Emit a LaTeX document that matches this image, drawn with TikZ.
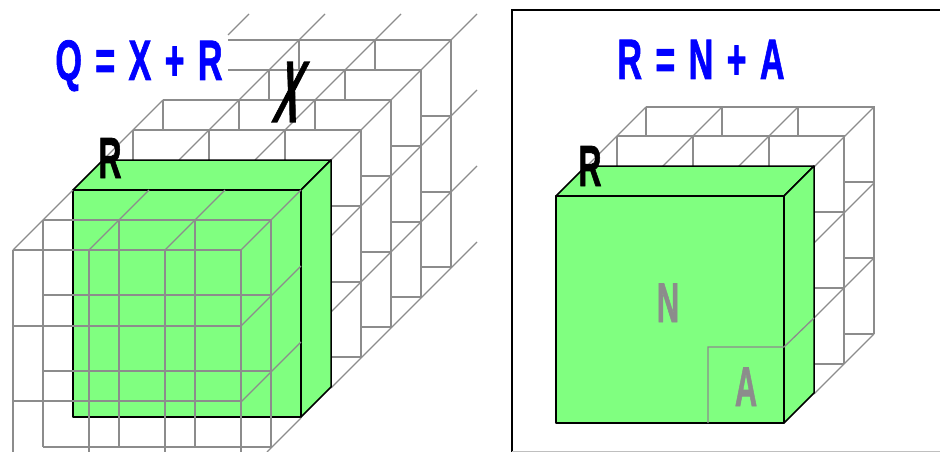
\documentclass[tikz,border=0pt]{standalone}
\usepackage{fontspec}
\setmainfont{Liberation Sans}
\newfontfamily\eqnfont[FakeBold=1.5,WordSpace=1.4]{Liberation Sans Bold}
\definecolor{gridgray}{HTML}{8C8C8C}
\definecolor{boxgreen}{HTML}{80FF80}
\definecolor{eqnblue}{HTML}{0000FF}
\tikzset{
  gridline/.style ={draw=gridgray, line width=1.3pt},
  boxface/.style  ={draw=black, fill=boxgreen, line width=1.5pt, line join=round},
  framebox/.style ={draw=black, line width=1.5pt},
  eqn/.style      ={font=\eqnfont\fontsize{57}{57}\selectfont, text=eqnblue, xscale=.6, inner sep=0pt, anchor=base},
  tag/.style      ={font=\eqnfont\fontsize{58}{58}\selectfont, text=black, xscale=.55, inner sep=0pt, anchor=base},
  parttag/.style  ={font=\eqnfont\fontsize{56}{56}\selectfont, text=gridgray, xscale=.55, inner sep=0pt, anchor=base},
}

\begin{document}
\begin{tikzpicture}[x=1pt,y=-1pt]
  \useasboundingbox (0,0) rectangle (940,452);

  % left cube, back layers
  \foreach \x in {299,375}{\draw[gridline] (\x,40) -- (\x,70);}
  \foreach \x in {269,345}{\draw[gridline] (\x,70) -- (\x,100);}
  \foreach \x in {163,239,315}{\draw[gridline] (\x,100) -- (\x,130);}
  \foreach \x in {133,209,285}{\draw[gridline] (\x,130) -- (\x,160);}
  \draw[gridline] (228,40) -- (451,40) -- (451,268);
  \draw[gridline] (228,70) -- (421,70) -- (421,297);
  \draw[gridline] (163,100) -- (391,100) -- (391,327);
  \draw[gridline] (133,130) -- (361,130) -- (361,357);
  \foreach \y in {116,192,267}{\draw[gridline] (421,\y) -- (451,\y);}
  \foreach \y in {146,222,297}{\draw[gridline] (391,\y) -- (421,\y);}
  \foreach \y in {176,252,327}{\draw[gridline] (361,\y) -- (391,\y);}
  \foreach \y in {206,282,357}{\draw[gridline] (331,\y) -- (361,\y);}
  \draw[gridline] (103,160) -- (163,100);
  \draw[gridline] (228,35) -- (249,14);
  \draw[gridline] (179,160) -- (325,14);
  \draw[gridline] (255,160) -- (401,14);
  \draw[gridline] (331,160) -- (477,14);
  \draw[gridline] (331,236) -- (477,90);
  \draw[gridline] (331,312) -- (477,166);
  \draw[gridline] (331,388) -- (477,242);

  % left green block
  \draw[boxface] (73,190) -- (103,160) -- (331,160) -- (301,190) -- cycle;
  \draw[boxface] (301,190) -- (331,160) -- (331,387) -- (301,417) -- cycle;
  \draw[boxface] (73,190) rectangle (301,417);

  % left cube, front layers
  \foreach \x in {43,119,195,271}{\draw[gridline] (\x,220) -- (\x,447);}
  \foreach \y in {220,295,371,447}{\draw[gridline] (43,\y) -- (271,\y);}
  \foreach \x in {13,89,165,241}{\draw[gridline] (\x,250) -- (\x,452);}
  \foreach \y in {250,326,401}{\draw[gridline] (13,\y) -- (241,\y);}
  \draw[gridline] (73,190) -- (13,250);
  \draw[gridline] (149,190) -- (89,250);
  \draw[gridline] (225,190) -- (165,250);
  \draw[gridline] (301,190) -- (241,250);
  \draw[gridline] (301,266) -- (241,326);
  \draw[gridline] (301,342) -- (241,402);
  \draw[gridline] (301,418) -- (267,452);

  \node[eqn] (eqnq) at (139,80) {Q = X + R};
  \node[tag] (tagr) at (110,178) {R};
  \node[tag, anchor=center, xslant=.45, yscale=1.5, xscale=1.15] (tagx) at (291,92) {X};

  % right panel
  \draw[framebox] (940,10) -- (512,10) -- (512,452);
  \draw[gray!50, line width=1pt] (512,451.5) -- (940,451.5);

  \foreach \x in {646,722,798}{\draw[gridline] (\x,107) -- (\x,136);}
  \foreach \x in {617,693,769}{\draw[gridline] (\x,136) -- (\x,166);}
  \draw[gridline] (646,107) -- (874,107) -- (874,334);
  \draw[gridline] (617,136) -- (844,136) -- (844,364);
  \foreach \y in {182,258,334}{\draw[gridline] (844,\y) -- (874,\y);}
  \foreach \y in {212,288,364}{\draw[gridline] (814,\y) -- (844,\y);}
  \draw[gridline] (586,167) -- (646,107);
  \draw[gridline] (662,167) -- (722,107);
  \draw[gridline] (738,167) -- (798,107);
  \draw[gridline] (814,167) -- (874,107);
  \draw[gridline] (814,243) -- (874,183);
  \draw[gridline] (814,318) -- (874,258);
  \draw[gridline] (814,394) -- (874,334);

  \draw[boxface] (556,196) -- (586,166) -- (814,166) -- (784,196) -- cycle;
  \draw[boxface] (784,196) -- (814,166) -- (814,393) -- (784,423) -- cycle;
  \draw[boxface] (556,196) rectangle (784,423);

  \draw[gridline] (708,423) -- (708,347) -- (784,347) -- (814,318);

  \node[eqn] (eqnr) at (701,79) {R = N + A};
  \node[tag] (tagrr) at (590,186) {R};
  \node[parttag] (tagn) at (668,322) {N};
  \node[parttag] (taga) at (746,406) {A};
\end{tikzpicture}
\end{document}
